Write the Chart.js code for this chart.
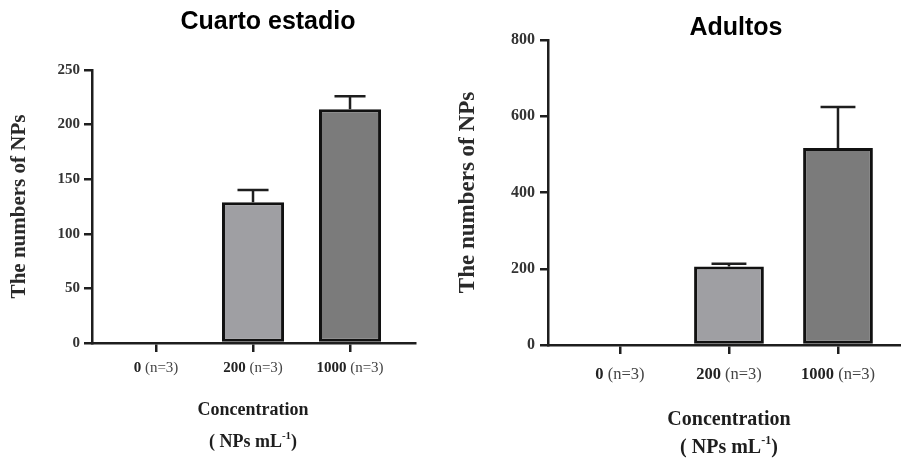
<!DOCTYPE html>
<html>
<head>
<meta charset="utf-8">
<script src="https://cdn.jsdelivr.net/npm/chart.js@4.4.0/dist/chart.umd.min.js"></script>
<style>
  body { margin: 0; background: #fff; }
  .wrap { position: relative; width: 901px; height: 472px; overflow: hidden; }
  #chart1 { position: absolute; left: 0; top: 0; }
  #chart2 { position: absolute; left: 450px; top: 0; }
</style>
</head>
<body>
<div class="wrap">
  <canvas id="chart1" width="450" height="472"></canvas>
  <canvas id="chart2" width="451" height="472"></canvas>
</div>
<script>
// dosis (NPs mL-1), cada grupo n=3
const doses = ["0", "200", "1000"];
const doseNote = "(n=3)";
// cuarto estadio
const larvaMeans = [0, 129, 214];
const larvaErrors = [0, 11, 12];
const larvaTicks = [0, 50, 100, 150, 200, 250];
// adultos
const adultMeans = [0, 206, 517];
const adultErrors = [0, 7, 107];
const adultTicks = [0, 200, 400, 600, 800];

const serif = "'Liberation Serif', 'Times New Roman', serif";
const sans = "'Liberation Sans', Arial, sans-serif";
const ink = "#1e1e1e";

// barras de error (solo el brazo superior se ve)
const errorBars = {
  id: "errorBars",
  afterDatasetsDraw(chart) {
    const ctx = chart.ctx;
    const ds = chart.data.datasets[0];
    const meta = chart.getDatasetMeta(0);
    const y = chart.scales.y;
    ctx.save();
    ctx.strokeStyle = ink;
    ctx.lineWidth = 2.5;
    ds.errors.forEach((err, i) => {
      if (!err) return;
      const bar = meta.data[i];
      const top = y.getPixelForValue(ds.data[i].y + err);
      const half = bar.width / 4;
      ctx.beginPath();
      ctx.moveTo(bar.x, bar.y);
      ctx.lineTo(bar.x, top);
      ctx.moveTo(bar.x - half, top);
      ctx.lineTo(bar.x + half, top);
      ctx.stroke();
    });
    ctx.restore();
  },
};

// titulo, etiquetas del eje x (negrita + normal) y titulo del eje x
const figText = {
  id: "figText",
  afterDraw(chart, args, o) {
    const ctx = chart.ctx;
    const x = chart.scales.x;
    ctx.save();
    ctx.textBaseline = "middle";
    ctx.textAlign = "center";
    ctx.fillStyle = "#000";
    ctx.font = `bold ${o.titleSize}px ${sans}`;
    ctx.fillText(o.title, o.titleX, o.titleY);

    ctx.textAlign = "left";
    const bold = `bold ${o.tickSize}px ${serif}`;
    const reg = `${o.tickSize}px ${serif}`;
    doses.forEach((d, i) => {
      const cx = x.getPixelForValue(i);
      ctx.font = bold;
      const w1 = ctx.measureText(d).width;
      ctx.font = reg;
      const w2 = ctx.measureText(" " + doseNote).width;
      const left = cx - (w1 + w2) / 2;
      ctx.fillStyle = "#222";
      ctx.font = bold;
      ctx.fillText(d, left, o.tickY);
      ctx.fillStyle = "#444";
      ctx.font = reg;
      ctx.fillText(" " + doseNote, left + w1, o.tickY);
    });

    const mid = x.getPixelForValue(1);
    ctx.fillStyle = ink;
    ctx.textAlign = "center";
    ctx.font = `bold ${o.labelSize}px ${serif}`;
    ctx.fillText("Concentration", mid, o.labelY);

    ctx.textAlign = "left";
    const p1 = "( NPs mL";
    const sup = "-1";
    const p3 = ")";
    const big = `bold ${o.labelSize}px ${serif}`;
    const small = `bold ${Math.round(o.labelSize * 0.6)}px ${serif}`;
    ctx.font = big;
    const a = ctx.measureText(p1).width;
    const c = ctx.measureText(p3).width;
    ctx.font = small;
    const b = ctx.measureText(sup).width;
    let left = mid - (a + b + c) / 2;
    ctx.font = big;
    ctx.fillText(p1, left, o.label2Y);
    ctx.font = small;
    ctx.fillText(sup, left + a, o.label2Y - o.labelSize * 0.35);
    ctx.font = big;
    ctx.fillText(p3, left + a + b, o.label2Y);
    ctx.restore();
  },
};

function createChart(canvas, means, errors, yTicks, s) {
  const axisGrid = {
    display: true,
    drawOnChartArea: false,
    drawTicks: true,
    tickLength: 8,
    color: ink,
    lineWidth: 2.5,
    offset: false,
  };
  const axisBorder = { display: true, color: ink, width: 2.5 };
  return new Chart(canvas, {
    type: "bar",
    data: {
      datasets: [
        {
          data: means.map((v, i) => ({ x: i, y: v })),
          errors: errors,
          backgroundColor: ["#9f9fa3", "#9f9fa3", "#7b7b7b"],
          borderColor: "#111",
          borderWidth: 3,
          borderSkipped: false,
          barPercentage: 0.64,
          categoryPercentage: 1,
        },
      ],
    },
    options: {
      responsive: false,
      animation: false,
      devicePixelRatio: 1,
      layout: { padding: { top: s.top, right: s.right, left: 0, bottom: 0 } },
      scales: {
        x: {
          type: "linear",
          offset: false,
          min: s.xMin,
          max: s.xMax,
          afterBuildTicks: (sc) => {
            sc.ticks = doses.map((_, i) => ({ value: i }));
          },
          afterFit: (sc) => {
            sc.height = s.xHeight;
          },
          ticks: { display: false },
          grid: { ...axisGrid, tickLength: 9 },
          border: axisBorder,
        },
        y: {
          min: 0,
          max: yTicks[yTicks.length - 1],
          afterBuildTicks: (sc) => {
            sc.ticks = yTicks.map((v) => ({ value: v }));
          },
          afterFit: (sc) => {
            sc.width = s.yWidth;
          },
          ticks: {
            padding: s.yTickPad,
            color: "#333",
            font: { family: serif, weight: "bold", size: s.yTickSize },
          },
          grid: axisGrid,
          border: axisBorder,
          title: {
            display: true,
            text: "The numbers of NPs",
            color: "#2a2a2a",
            font: { family: serif, weight: "bold", size: s.yTitleSize },
            padding: { top: s.yTitlePad, bottom: 0 },
          },
        },
      },
      plugins: {
        legend: { display: false },
        tooltip: { enabled: false },
        figText: s.text,
      },
    },
    plugins: [errorBars, figText],
  });
}

createChart(document.getElementById("chart1"), larvaMeans, larvaErrors, larvaTicks, {
  top: 70, right: 35, xMin: -0.66, xMax: 2.67, xHeight: 129,
  yWidth: 92, yTickPad: 4, yTickSize: 15, yTitleSize: 21, yTitlePad: 7,
  text: {
    title: "Cuarto estadio", titleX: 268, titleY: 22, titleSize: 25,
    tickSize: 15, tickY: 368, labelSize: 18, labelY: 410, label2Y: 442,
  },
});

createChart(document.getElementById("chart2"), adultMeans, adultErrors, adultTicks, {
  top: 40, right: 0, xMin: -0.66, xMax: 2.578, xHeight: 127,
  yWidth: 98, yTickPad: 5, yTickSize: 16, yTitleSize: 23, yTitlePad: 4,
  text: {
    title: "Adultos", titleX: 286, titleY: 28, titleSize: 25,
    tickSize: 16.5, tickY: 375, labelSize: 20, labelY: 420, label2Y: 448,
  },
});
</script>
</body>
</html>
